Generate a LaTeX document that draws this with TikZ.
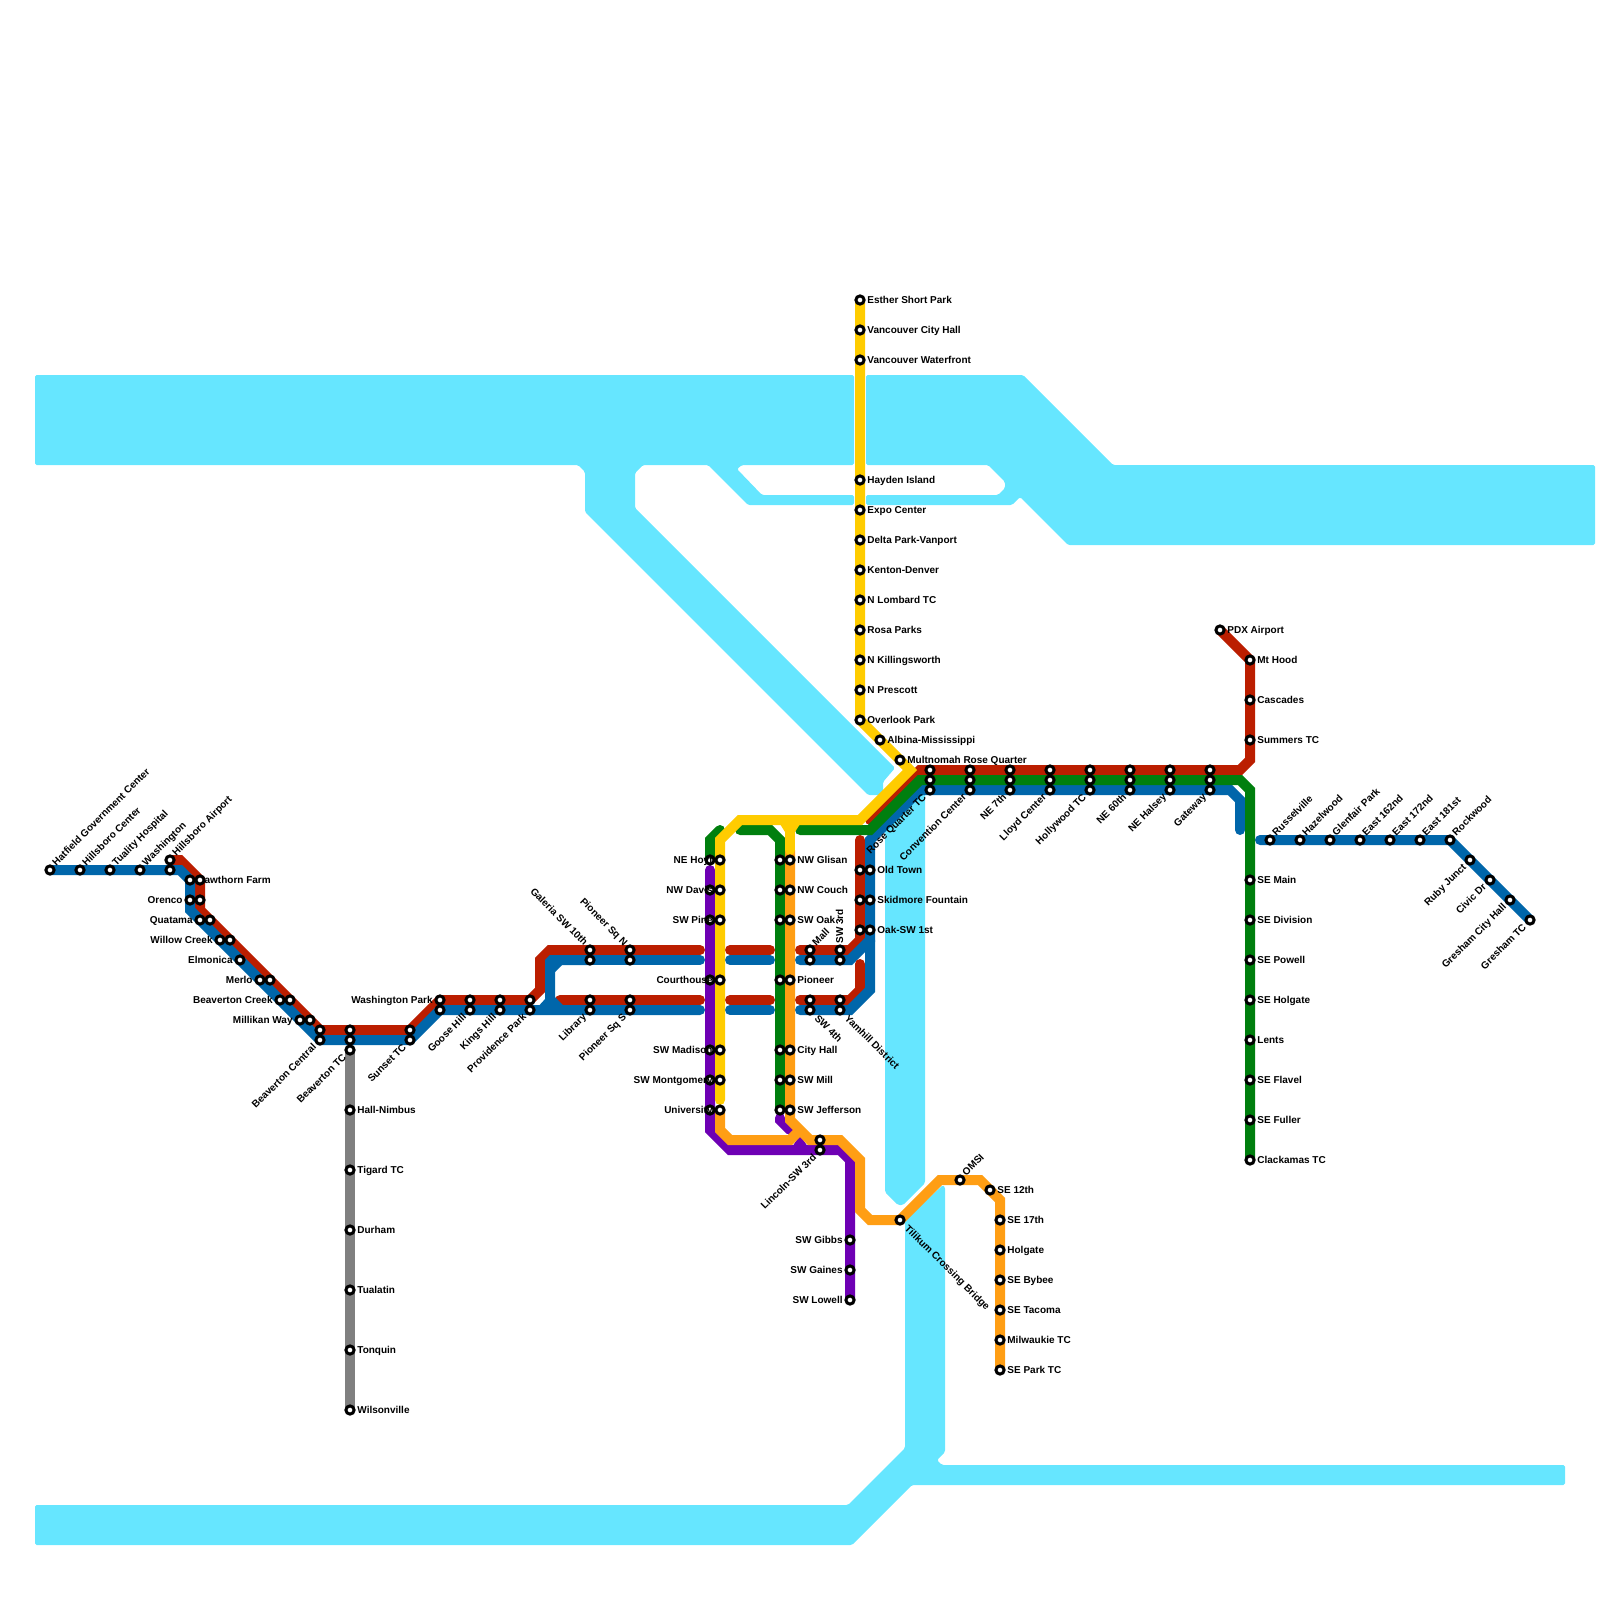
\documentclass[tikz,border=0pt]{standalone}
\usepackage{fontspec}
\setmainfont{Liberation Sans}
\pgfdeclarelayer{water}
\pgfdeclarelayer{lines}
\pgfsetlayers{water,lines,main}
\definecolor{cwater}{HTML}{66E6FF}
\definecolor{cred}{HTML}{BB1E00}
\definecolor{cblue}{HTML}{0066AA}
\definecolor{cgreen}{HTML}{007F0E}
\definecolor{cyellow}{HTML}{FFCC00}
\definecolor{corange}{HTML}{FF9E14}
\definecolor{cpurple}{HTML}{6E00B4}
\definecolor{cgray}{HTML}{808080}
\tikzset{
  stn/.style={circle,draw=black,fill=white,line width=1.5pt,inner sep=0pt,outer sep=0pt,minimum size=4.1pt},
  wat/.style={fill=cwater,rounded corners=0.8pt},
  rail/.style={line width=5pt,line cap=round,line join=miter},
  lbl/.style={inner sep=0pt,text height=3pt,text depth=0pt,font=\bfseries\fontsize{5pt}{5pt}\selectfont},
  lr/.style={lbl,anchor=west,xshift=3.5pt},
  ll/.style={lbl,anchor=east,xshift=-3.5pt},
  ur/.style={lbl,xshift=2pt,yshift=2.8pt,rotate=45,anchor=west},
  dl/.style={lbl,xshift=-2.5pt,yshift=-2.8pt,rotate=45,anchor=east},
  dr/.style={lbl,xshift=3pt,yshift=-3.3pt,rotate=-45,anchor=west},
  ul/.style={lbl,xshift=-2pt,yshift=2.8pt,rotate=-45,anchor=east},
  uu/.style={lbl,yshift=3pt,rotate=90,anchor=west},
}
\newcommand{\ST}[3]{\node[stn] (#1) at (#2,#3) {};}
\newcommand{\SL}[5]{\node[stn] (#1) at (#2,#3) {}; \node[#4] (#1-t) at (#1.center) {#5};}
\begin{document}
\begin{tikzpicture}[x=5pt,y=-5pt]
\useasboundingbox (0,0) rectangle (160,160);
% west line
\SL{hatfield}{5}{87}{ur}{Hatfield Government Center}
\SL{hillsc}{8}{87}{ur}{Hillsboro Center}
\SL{tuality}{11}{87}{ur}{Tuality Hospital}
\SL{washington}{14}{87}{ur}{Washington}
\ST{hiair}{17}{87}
\SL{hiairb}{17}{86}{ur}{Hillsboro Airport}
\SL{hawth}{19}{88}{lr}{Hawthorn Farm}
\ST{hawthb}{20}{88}
\SL{orenco}{19}{90}{ll}{Orenco}
\ST{orencob}{20}{90}
\SL{quatama}{20}{92}{ll}{Quatama}
\ST{quatamab}{21}{92}
\SL{willow}{22}{94}{ll}{Willow Creek}
\ST{willowb}{23}{94}
\SL{elmonica}{24}{96}{ll}{Elmonica}
\SL{merlo}{26}{98}{ll}{Merlo}
\ST{merlob}{27}{98}
\SL{bvcreek}{28}{100}{ll}{Beaverton Creek}
\ST{bvcreekb}{29}{100}
\SL{millikan}{30}{102}{ll}{Millikan Way}
\ST{millikanb}{31}{102}
\ST{bvcentrala}{32}{103}
\SL{bvcentral}{32}{104}{dl}{Beaverton Central}
\ST{bvtca}{35}{103}
\ST{bvtcb}{35}{104}
\SL{bvtc}{35}{105}{dl}{Beaverton TC}
\SL{hall}{35}{111}{lr}{Hall-Nimbus}
\SL{tigard}{35}{117}{lr}{Tigard TC}
\SL{durham}{35}{123}{lr}{Durham}
\SL{tualatin}{35}{129}{lr}{Tualatin}
\SL{tonquin}{35}{135}{lr}{Tonquin}
\SL{wilson}{35}{141}{lr}{Wilsonville}
\ST{sunseta}{41}{103}
\SL{sunset}{41}{104}{dl}{Sunset TC}
\SL{washpark}{44}{100}{ll}{Washington Park}
\ST{washparkb}{44}{101}
\ST{goosea}{47}{100}
\SL{goose}{47}{101}{dl}{Goose Hill}
\ST{kingsa}{50}{100}
\SL{kings}{50}{101}{dl}{Kings Hill}
\ST{prova}{53}{100}
\SL{prov}{53}{101}{dl}{Providence Park}
% downtown east-west
\SL{galeria}{59}{95}{ul}{Galeria SW 10th}
\ST{galeriab}{59}{96}
\SL{piosqn}{63}{95}{ul}{Pioneer Sq N}
\ST{piosqnb}{63}{96}
\ST{librarya}{59}{100}
\SL{library}{59}{101}{dl}{Library}
\ST{piosqsa}{63}{100}
\SL{piosqs}{63}{101}{dl}{Pioneer Sq S}
\SL{mall}{81}{95}{ur}{Mall}
\ST{mallb}{81}{96}
\SL{swthird}{84}{95}{uu}{SW 3rd}
\ST{swthirdb}{84}{96}
\ST{swfourtha}{81}{100}
\SL{swfourth}{81}{101}{dr}{SW 4th}
\ST{yamhilla}{84}{100}
\SL{yamhill}{84}{101}{dr}{Yamhill District}
% mall north-south
\ST{hoyta}{71}{86}
\SL{hoyt}{72}{86}{ll}{NE Hoyt}
\ST{davisa}{71}{89}
\SL{davis}{72}{89}{ll}{NW Davis}
\ST{pinea}{71}{92}
\SL{pine}{72}{92}{ll}{SW Pine}
\ST{courta}{71}{98}
\SL{court}{72}{98}{ll}{Courthouse}
\ST{madisona}{71}{105}
\SL{madison}{72}{105}{ll}{SW Madison}
\ST{montga}{71}{108}
\SL{montg}{72}{108}{ll}{SW Montgomery}
\ST{univa}{71}{111}
\SL{univ}{72}{111}{ll}{University}
\ST{glisana}{78}{86}
\SL{glisan}{79}{86}{lr}{NW Glisan}
\ST{coucha}{78}{89}
\SL{couch}{79}{89}{lr}{NW Couch}
\ST{oaka}{78}{92}
\SL{oak}{79}{92}{lr}{SW Oak}
\ST{pioneera}{78}{98}
\SL{pioneer}{79}{98}{lr}{Pioneer}
\ST{cityhalla}{78}{105}
\SL{cityhall}{79}{105}{lr}{City Hall}
\ST{milla}{78}{108}
\SL{mill}{79}{108}{lr}{SW Mill}
\ST{jeffa}{78}{111}
\SL{jeff}{79}{111}{lr}{SW Jefferson}
% yellow north
\SL{esther}{86}{30}{lr}{Esther Short Park}
\SL{vanch}{86}{33}{lr}{Vancouver City Hall}
\SL{vanwf}{86}{36}{lr}{Vancouver Waterfront}
\SL{hayden}{86}{48}{lr}{Hayden Island}
\SL{expo}{86}{51}{lr}{Expo Center}
\SL{delta}{86}{54}{lr}{Delta Park-Vanport}
\SL{kenton}{86}{57}{lr}{Kenton-Denver}
\SL{lombard}{86}{60}{lr}{N Lombard TC}
\SL{rosa}{86}{63}{lr}{Rosa Parks}
\SL{killing}{86}{66}{lr}{N Killingsworth}
\SL{prescott}{86}{69}{lr}{N Prescott}
\SL{overlook}{86}{72}{lr}{Overlook Park}
\SL{albina}{88}{74}{lr}{Albina-Mississippi}
\SL{multnomah}{90}{76}{lr}{Multnomah Rose Quarter}
% old town
\ST{oldtowna}{86}{87}
\SL{oldtown}{87}{87}{lr}{Old Town}
\ST{skidmorea}{86}{90}
\SL{skidmore}{87}{90}{lr}{Skidmore Fountain}
\ST{oneasta}{86}{93}
\SL{oneast}{87}{93}{lr}{Oak-SW 1st}
% east
\ST{rqa}{93}{77}\ST{rqb}{93}{78}\SL{rqc}{93}{79}{dl}{Rose Quarter TC}
\ST{cca}{97}{77}\ST{ccb}{97}{78}\SL{ccc}{97}{79}{dl}{Convention Center}
\ST{sevena}{101}{77}\ST{sevenb}{101}{78}\SL{sevenc}{101}{79}{dl}{NE 7th}
\ST{lla}{105}{77}\ST{llb}{105}{78}\SL{llc}{105}{79}{dl}{Lloyd Center}
\ST{hwa}{109}{77}\ST{hwb}{109}{78}\SL{hwc}{109}{79}{dl}{Hollywood TC}
\ST{sixa}{113}{77}\ST{sixb}{113}{78}\SL{sixc}{113}{79}{dl}{NE 60th}
\ST{hsa}{117}{77}\ST{hsb}{117}{78}\SL{hsc}{117}{79}{dl}{NE Halsey}
\ST{gwa}{121}{77}\ST{gwb}{121}{78}\SL{gwc}{121}{79}{dl}{Gateway}
\SL{pdx}{122}{63}{lr}{PDX Airport}
\SL{mthood}{125}{66}{lr}{Mt Hood}
\SL{cascades}{125}{70}{lr}{Cascades}
\SL{summers}{125}{74}{lr}{Summers TC}
\SL{semain}{125}{88}{lr}{SE Main}
\SL{sediv}{125}{92}{lr}{SE Division}
\SL{sepowell}{125}{96}{lr}{SE Powell}
\SL{seholgate}{125}{100}{lr}{SE Holgate}
\SL{lents}{125}{104}{lr}{Lents}
\SL{seflavel}{125}{108}{lr}{SE Flavel}
\SL{sefuller}{125}{112}{lr}{SE Fuller}
\SL{clackamas}{125}{116}{lr}{Clackamas TC}
\SL{russel}{127}{84}{ur}{Russelville}
\SL{hazel}{130}{84}{ur}{Hazelwood}
\SL{glenfair}{133}{84}{ur}{Glenfair Park}
\SL{esixtwo}{136}{84}{ur}{East 162nd}
\SL{esevtwo}{139}{84}{ur}{East 172nd}
\SL{eeightone}{142}{84}{ur}{East 181st}
\SL{rockwood}{145}{84}{ur}{Rockwood}
\SL{ruby}{147}{86}{dl}{Ruby Junct}
\SL{civic}{149}{88}{dl}{Civic Dr}
\SL{greshamch}{151}{90}{dl}{Gresham City Hall}
\SL{greshamtc}{153}{92}{dl}{Gresham TC}
% south
\ST{lincolna}{82}{114}
\SL{lincoln}{82}{115}{dl}{Lincoln-SW 3rd}
\SL{gibbs}{85}{124}{ll}{SW Gibbs}
\SL{gaines}{85}{127}{ll}{SW Gaines}
\SL{lowell}{85}{130}{ll}{SW Lowell}
\SL{tilikum}{90}{122}{dr}{Tilikum Crossing Bridge}
\SL{omsi}{96}{118}{ur}{OMSI}
\SL{setwelve}{99}{119}{lr}{SE 12th}
\SL{seseventeen}{100}{122}{lr}{SE 17th}
\SL{holgate}{100}{125}{lr}{Holgate}
\SL{bybee}{100}{128}{lr}{SE Bybee}
\SL{tacoma}{100}{131}{lr}{SE Tacoma}
\SL{milwaukie}{100}{134}{lr}{Milwaukie TC}
\SL{parktc}{100}{137}{lr}{SE Park TC}

\begin{pgfonlayer}{water}
\fill[wat] (3.5,37.5) -- (85.4,37.5) -- (85.4,46.5) -- (74.2,46.5) -- (73.7,46.9) -- (76.2,49.5) -- (85.4,49.5) -- (85.4,50.5) -- (74.8,50.5) -- (70.8,46.5) -- (64.3,46.5) -- (63.5,47.3) -- (63.5,50.8) -- (89.5,76.8) -- (88.3,78.2) -- (88.3,79.5) -- (86.8,79.5) -- (58.5,51.2) -- (58.5,47.2) -- (57.8,46.5) -- (3.5,46.5) -- cycle;
\fill[wat] (86.6,37.5) -- (102.3,37.5) -- (111.3,46.5) -- (159.5,46.5) -- (159.5,54.5) -- (106.8,54.5) -- (102,49.7) -- (101.2,50.5) -- (86.6,50.5) -- (86.6,49.5) -- (99.8,49.5) -- (100.5,48.8) -- (100.5,48.2) -- (98.8,46.5) -- (86.6,46.5) -- cycle;
\fill[wat] (88.5,83) -- (92.5,79) -- (92.5,118.3) -- (90.3,120.5) -- (89.8,120.5) -- (88.5,119.2) -- cycle;
\fill[wat] (90.5,122) -- (94.3,118.5) -- (94.5,118.7) -- (94.5,145.2) -- (93.7,146) -- (94.2,146.5) -- (156.5,146.5) -- (156.5,148.5) -- (91.2,148.5) -- (85.2,154.5) -- (3.5,154.5) -- (3.5,150.5) -- (84.8,150.5) -- (90.5,144.8) -- cycle;
\end{pgfonlayer}

\begin{pgfonlayer}{lines}
% gray
\draw[rail,cgray] (bvtc.center) -- (hall.center) -- (tigard.center) -- (durham.center) -- (tualatin.center) -- (tonquin.center) -- (wilson.center);
% red
\draw[rail,cred] (pdx.center) -- (mthood.center) -- (cascades.center) -- (summers.center) -- (125,76) -- (124,77) -- (gwa.center) -- (hsa.center) -- (sixa.center) -- (hwa.center) -- (lla.center) -- (sevena.center) -- (cca.center) -- (rqa.center) -- (92,77) -- (87,82);
\draw[rail,cred] (86,84) -- (oldtowna.center) -- (skidmorea.center) -- (oneasta.center) -- (86,94) -- (85,95) -- (swthird.center) -- (mall.center) -- (80,95);
\draw[rail,cred] (77,95) -- (73,95);
\draw[rail,cred] (70,95) -- (piosqn.center) -- (galeria.center) -- (55,95) -- (54,96) -- (54,99) -- (53,100) -- (prova.center) -- (kingsa.center) -- (goosea.center) -- (washpark.center) -- (sunseta.center) -- (bvtca.center) -- (bvcentrala.center) -- (millikanb.center) -- (20,91) -- (hawthb.center) -- (18,86) -- (hiairb.center);
\draw[rail,cred] (86,98) -- (86,99) -- (85,100) -- (yamhilla.center) -- (swfourtha.center) -- (80,100);
\draw[rail,cred] (77,100) -- (73,100);
\draw[rail,cred] (70,100) -- (piosqsa.center) -- (librarya.center) -- (56,100);
% blue
\draw[rail,cblue] (hatfield.center) -- (hillsc.center) -- (tuality.center) -- (washington.center) -- (hiair.center) -- (18,87) -- (hawth.center) -- (orenco.center) -- (19,91) -- (quatama.center) -- (willow.center) -- (elmonica.center) -- (merlo.center) -- (bvcreek.center) -- (millikan.center) -- (bvcentral.center) -- (bvtcb.center) -- (sunset.center) -- (washparkb.center) -- (goose.center) -- (kings.center) -- (prov.center) -- (library.center) -- (piosqs.center) -- (70,101);
\draw[rail,cblue,line cap=butt] (55,100) -- (55,96.2) -- (55.2,96) -- (galeriab.center);
\draw[rail,cblue] (galeriab.center) -- (piosqnb.center) -- (70,96);
\fill[cblue] (55.5,97.2) -- (55.5,96.5) -- (56.2,96.5) -- cycle;
\fill[cblue] (53.5,101) -- (54.6,99.8) -- (55.5,99.7) -- (56.6,100.8) -- (56.6,101) -- cycle;
\draw[rail,cblue] (73,96) -- (77,96);
\draw[rail,cblue] (73,101) -- (77,101);
\draw[rail,cblue] (80,96) -- (mallb.center) -- (swthirdb.center) -- (85,96) -- (87,94) -- (oneast.center) -- (skidmore.center) -- (oldtown.center) -- (87,84) -- (92,79) -- (rqc.center) -- (ccc.center) -- (sevenc.center) -- (llc.center) -- (hwc.center) -- (sixc.center) -- (hsc.center) -- (gwc.center) -- (123,79) -- (124,80) -- (124,83);
\draw[rail,cblue] (80,101) -- (swfourth.center) -- (yamhill.center) -- (85,101) -- (87,99) -- (87,94);
\draw[rail,cblue] (126,84) -- (russel.center) -- (hazel.center) -- (glenfair.center) -- (esixtwo.center) -- (esevtwo.center) -- (eeightone.center) -- (rockwood.center) -- (ruby.center) -- (civic.center) -- (greshamch.center) -- (greshamtc.center);
\draw[rail,cred] (86,96.4) -- (86,98);
% green
\draw[rail,cgreen] (clackamas.center) -- (sefuller.center) -- (seflavel.center) -- (lents.center) -- (seholgate.center) -- (sepowell.center) -- (sediv.center) -- (semain.center) -- (125,79) -- (124,78) -- (gwb.center) -- (hsb.center) -- (sixb.center) -- (hwb.center) -- (llb.center) -- (sevenb.center) -- (ccb.center) -- (rqb.center) -- (92,78) -- (87,83) -- (80,83);
\draw[rail,cgreen] (74,83) -- (77,83) -- (78,84) -- (glisana.center) -- (coucha.center) -- (oaka.center) -- (pioneera.center) -- (cityhalla.center) -- (milla.center) -- (jeffa.center);
\draw[rail,cgreen] (72,83) -- (71,84) -- (hoyta.center);
% purple
\draw[rail,cpurple] (71,87) -- (davisa.center) -- (pinea.center) -- (courta.center) -- (madisona.center) -- (montga.center) -- (univa.center) -- (71,113) -- (73,115) -- (lincoln.center) -- (84,115) -- (85,116) -- (gibbs.center) -- (gaines.center) -- (lowell.center);
\draw[rail,cpurple] (78,111.8) -- (78,112) -- (79,113);
\fill[cpurple] (79,115) -- (80,113.5) -- (81,115) -- cycle;
% orange
\draw[rail,corange,line cap=butt] (79,85) -- (glisan.center) -- (couch.center) -- (oak.center) -- (pioneer.center) -- (cityhall.center) -- (mill.center) -- (jeff.center) -- (79,112) -- (81,114) -- (lincolna.center) -- (84,114) -- (86,116) -- (86,121) -- (87,122) -- (tilikum.center) -- (94,118) -- (omsi.center) -- (98,118) -- (setwelve.center) -- (100,120) -- (seseventeen.center) -- (holgate.center) -- (bybee.center) -- (tacoma.center) -- (milwaukie.center) -- (parktc.center);
\fill[corange] (parktc.center) circle (2.5pt);
\draw[rail,corange,line cap=butt] (univ.center) -- (72,113) -- (73,114) -- (79,114) -- (80,113);
% yellow
\draw[rail,cyellow] (esther.center) -- (vanch.center) -- (vanwf.center) -- (hayden.center) -- (expo.center) -- (delta.center) -- (kenton.center) -- (lombard.center) -- (rosa.center) -- (killing.center) -- (prescott.center) -- (overlook.center) -- (albina.center) -- (multnomah.center) -- (91,77) -- (86,82) -- (74,82) -- (72,84) -- (hoyt.center) -- (davis.center) -- (pine.center) -- (court.center) -- (madison.center) -- (montg.center) -- (72,110);
\draw[rail,cyellow] (79,82) -- (79,85);
\fill[cyellow] (78,82.4) -- (78.5,83.2) -- (79.5,83.2) -- (80,82.4) -- cycle;
\end{pgfonlayer}
\end{tikzpicture}
\end{document}
